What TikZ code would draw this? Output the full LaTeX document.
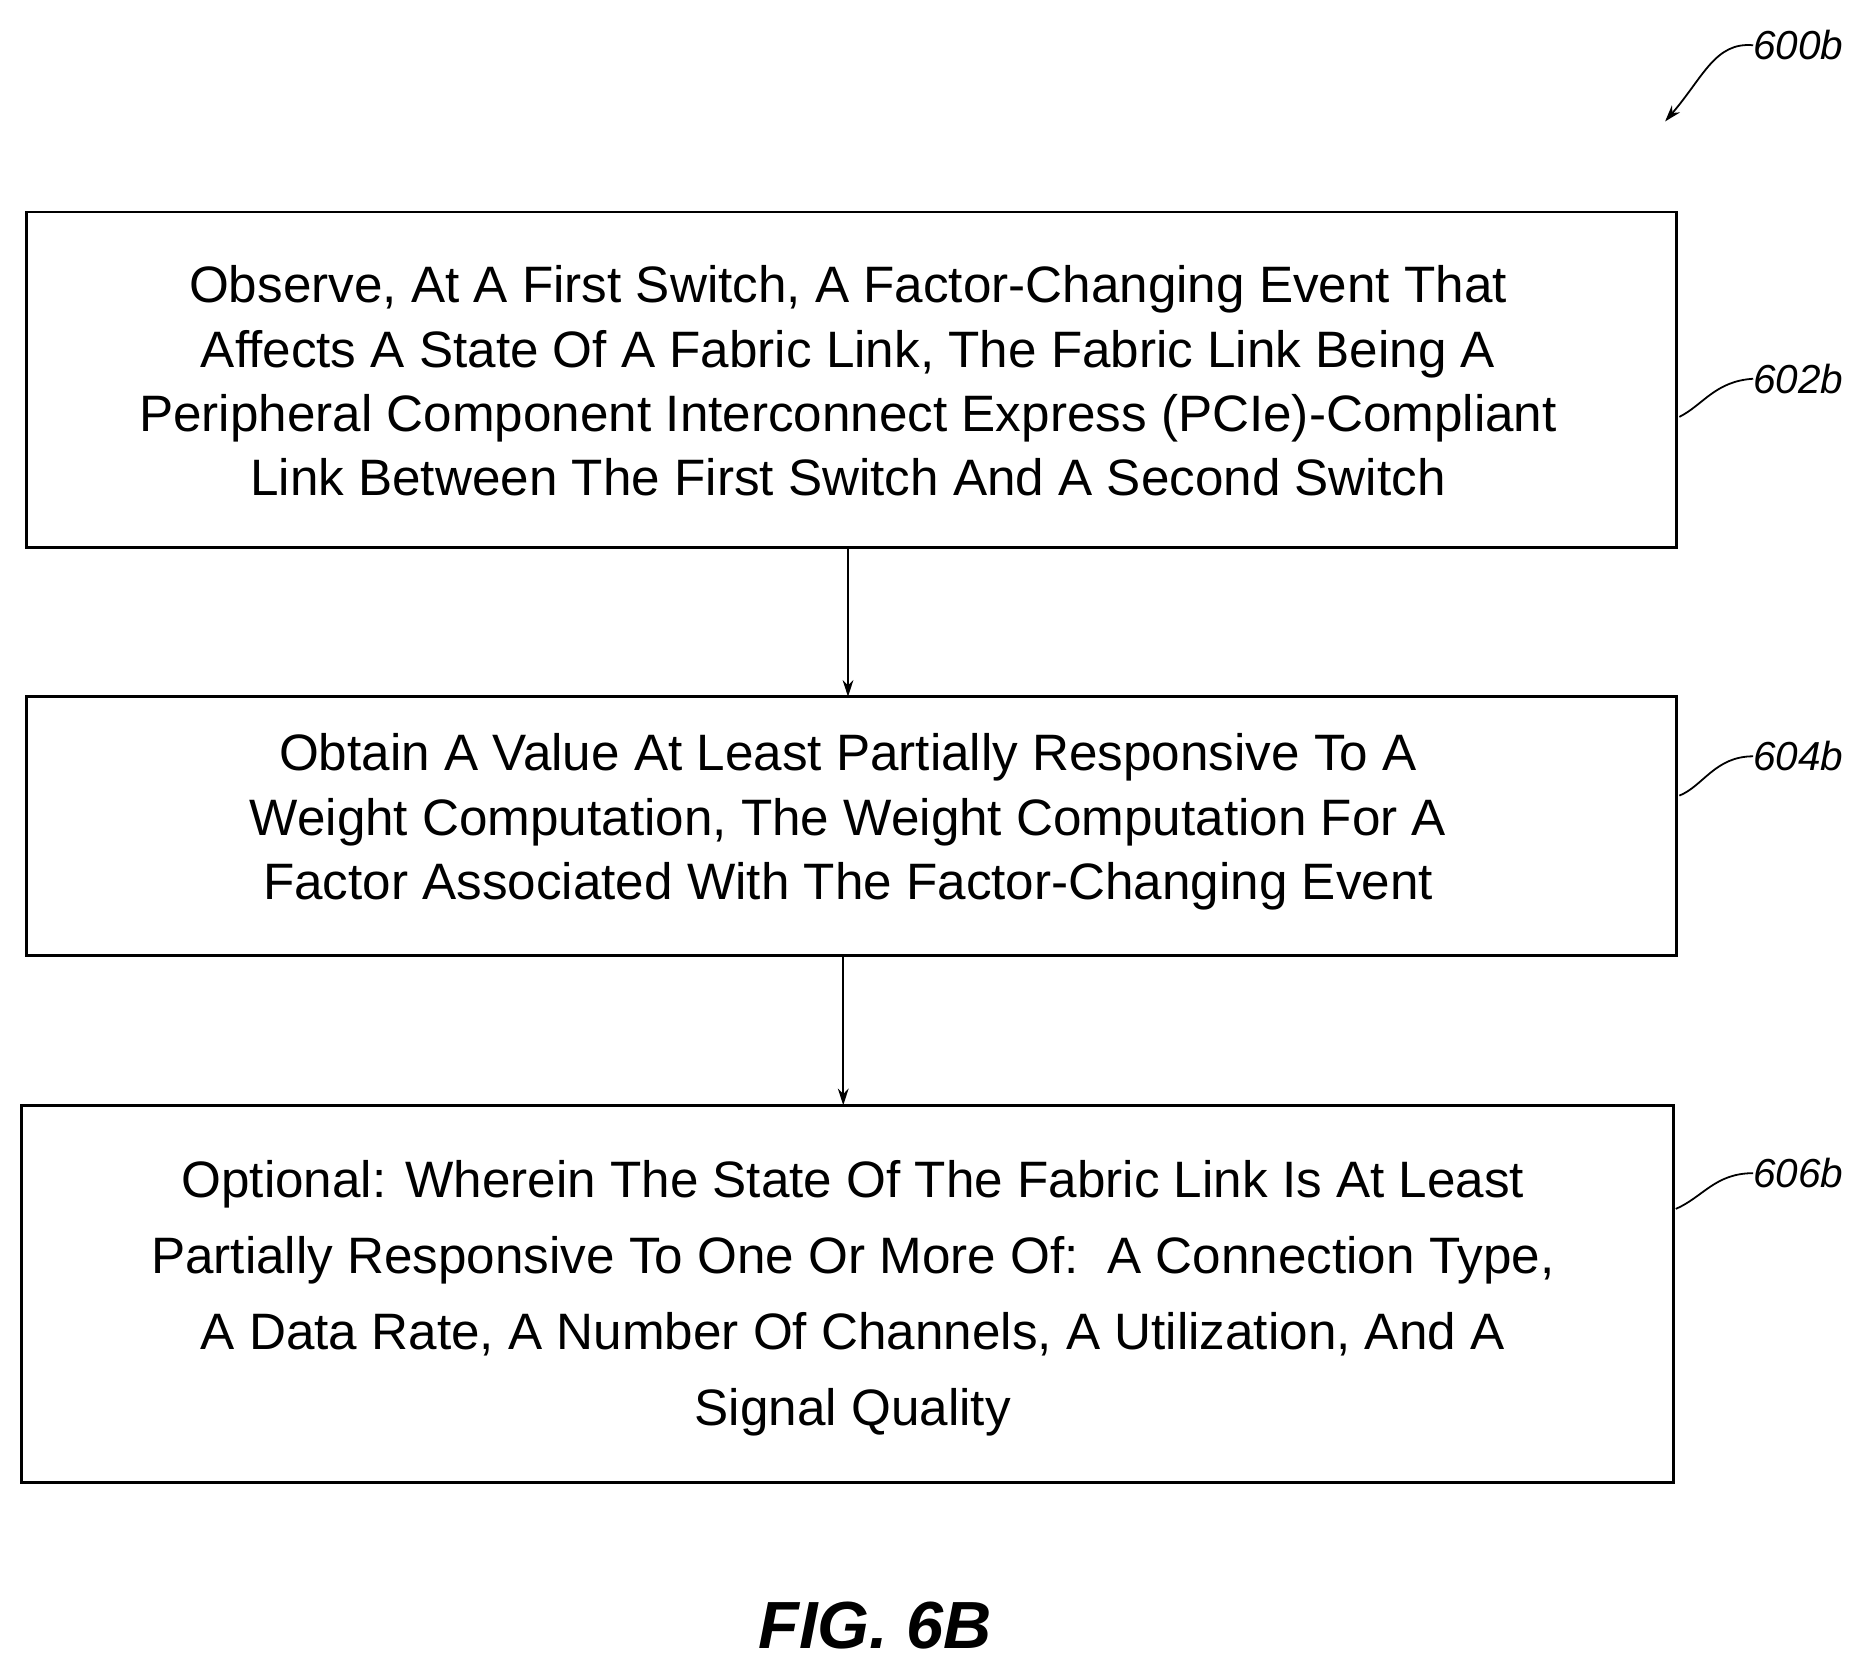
\documentclass[tikz,border=0pt]{standalone}
\usepackage{fontspec}
\setmainfont{Liberation Sans}
\usetikzlibrary{arrows.meta,decorations.pathmorphing}
\begin{document}
\begin{tikzpicture}[x=1pt,y=-1pt,
 box/.style={draw,line width=2.5pt,inner sep=0pt},
 txt/.style={align=center,font=\fontsize{43}{54}\selectfont},
 arr/.style={line width=1.5pt,-{Stealth[length=14pt,width=9pt]}},
 sq/.style={line width=1.5pt,decorate,decoration={snake,amplitude=3pt,segment length=20pt}},
 lab/.style={font=\itshape\fontsize{34}{40}\selectfont,anchor=west,inner sep=0pt}]
\useasboundingbox (0,0) rectangle (1560,1400);
\draw[box] (22,178) rectangle (1408,460);
\node[txt] (t1) at (712,320) {Observe, At A First Switch, A Factor-Changing Event That\\Affects A State Of A Fabric Link, The Fabric Link Being A\\Peripheral Component Interconnect Express (PCIe)-Compliant\\Link Between The First Switch And A Second Switch};
\draw[box] (22,585) rectangle (1408,802);
\node[txt] (t2) at (712,690) {Obtain A Value At Least Partially Responsive To A\\Weight Computation, The Weight Computation For A\\Factor Associated With The Factor-Changing Event};
\draw[box] (18,928) rectangle (1405,1245);
\node[txt,font=\fontsize{43}{64}\selectfont] (t3) at (716,1090) {Optional: Wherein The State Of The Fabric Link Is At Least\\Partially Responsive To One Or More Of:\ \ A Connection Type,\\A Data Rate, A Number Of Channels, A Utilization, And A\\Signal Quality};
\coordinate (a1) at (712,460); \coordinate (b1) at (712,585);
\coordinate (a2) at (708,802); \coordinate (b2) at (708,928);
\draw[arr] (a1) -- (b1);
\draw[arr] (a2) -- (b2);
\node[lab] (l0) at (1472,38) {600b};
\node[lab] (l1) at (1472,318) {602b};
\node[lab] (l2) at (1472,635) {604b};
\node[lab] (l3) at (1472,985) {606b};
\coordinate (c1) at (1410,350); \coordinate (c2) at (1410,668); \coordinate (c3) at (1407,1015);
\draw[line width=1.5pt] (c1) .. controls (1430,340) and (1440,320) .. (l1.west);
\draw[line width=1.5pt] (c2) .. controls (1430,660) and (1440,635) .. (l2.west);
\draw[line width=1.5pt] (c3) .. controls (1430,1005) and (1440,985) .. (l3.west);
\coordinate (p0) at (1398,102);
\draw[arr] (l0.west) .. controls (1440,35) and (1430,65) .. (p0);
\node[font=\bfseries\itshape\fontsize{56}{60}\selectfont] (fig) at (735,1365) {FIG. 6B};
\end{tikzpicture}
\end{document}
